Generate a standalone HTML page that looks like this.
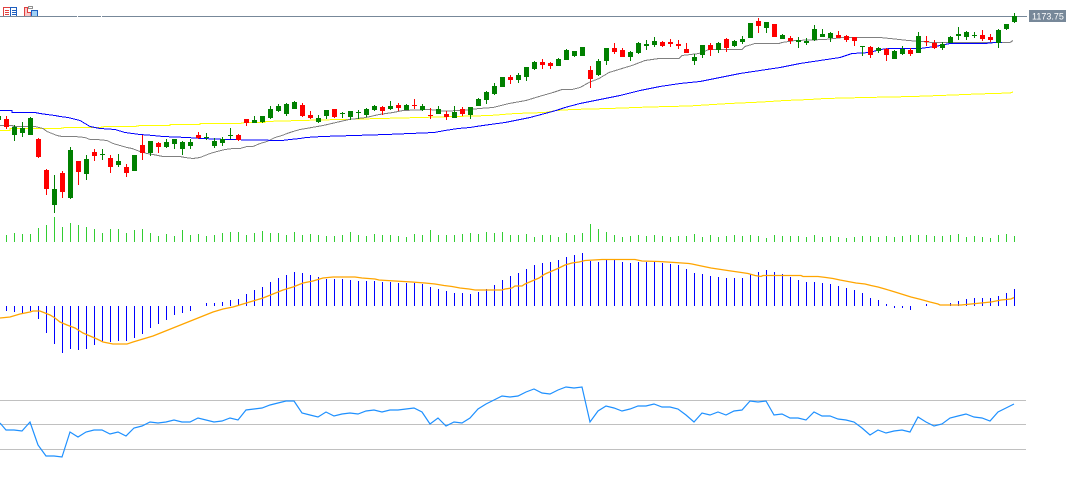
<!DOCTYPE html>
<html>
<head>
<meta charset="utf-8">
<style>
html,body{margin:0;padding:0;background:#fff;}
body{width:1068px;height:499px;overflow:hidden;}
svg{display:block;}
</style>
</head>
<body>
<svg width="1068" height="499" viewBox="0 0 1068 499" xmlns="http://www.w3.org/2000/svg">
<rect x="0" y="0" width="1068" height="499" fill="#ffffff"/>

<!-- toolbar icons -->
<g shape-rendering="crispEdges">
  <rect x="3.5" y="7.5" width="7" height="9" fill="#fff" stroke="#e04040"/>
  <rect x="10.5" y="7.5" width="6" height="9" fill="#fff" stroke="#1f5fbf"/>
  <path d="M5 10.5h4M5 12.5h4M5 14.5h4" stroke="#e04040"/>
  <path d="M12 10.5h4M12 12.5h4M12 14.5h4" stroke="#1f5fbf"/>
  <path d="M24.5 16.5V7.5h3v5h3.5v4z" fill="#f8c8c8" stroke="#e04040"/>
  <rect x="31.5" y="10.5" width="6" height="6" fill="#9fd0f5" stroke="#1f5fbf"/>
  <rect x="28.5" y="6.5" width="4" height="2" fill="#fff" stroke="#909090"/>
</g>

<!-- price line -->
<rect x="0" y="16" width="1027" height="1" fill="#778899"/>
<rect x="77" y="16" width="1" height="1" fill="#fff"/>
<rect x="101" y="16" width="1" height="1" fill="#fff"/>
<rect x="1029" y="10" width="37" height="12" fill="#778899"/>
<text x="1032" y="19.5" font-family="Liberation Sans, sans-serif" font-size="9" fill="#ffffff">1173.75</text>

<!-- moving averages -->
<g fill="none" stroke-width="1" shape-rendering="crispEdges">
<polyline stroke="#ffff00" points="0,130.5 10,130.5 10,128.5 60,128.5 65,127.5 100,127.5 105,126.5 135,126.5 140,125.5 170,125.5 170,124.5 200,124.5 200,123.5 240,123.5 245,122.5 265,122.5 265,121.5 300,120.5 340,119.5 380,118.5 420,117.5 455,116.5 490,115.5 515,113.5 545,112.5 556,110.5 572,109.5 609,108.5 649,107 689,106 729,103.5 762,102 785,100.5 810,99.5 825,98.5 865,97.5 913,96.5 953,95 977,94 1010,93 1013,92"/>
<polyline stroke="#808080" points="0,125.5 13,125.5 13,126.5 35,126.5 43,128.5 47,131.5 52,133.5 57,135.5 62,136.5 75,136.5 85,137.5 90,139.5 97,139.5 107,140.5 113,143.5 120,145.5 127,147.5 132,148.5 140,151.5 147,153.5 153,154.5 163,156.5 180,156.5 185,157.5 193,158.5 200,157.5 205,155.5 210,153.5 217,151.5 225,149.5 233,148.5 240,148.5 247,146.5 253,146.5 260,143.5 267,141.5 275,137.5 282,135.5 287,133.5 293,131.5 300,129.5 306,128.5 323,125.5 336,122.5 349,119.5 366,117.5 379,114.5 393,112.5 403,110.5 429,109.5 443,111 463,110.5 479,108.5 493,107.5 509,103.5 526,100.5 539,96.5 553,92.5 562,89.5 572,89.5 580,87.5 589,82.5 599,78.5 609,72.5 622,68.5 632,65.5 645,60.5 659,58.5 679,58.5 682,55.5 699,53.5 709,49.5 742,49.5 745,46.5 755,43.5 779,43.5 782,42.5 795,40.5 825,39.5 843,37.5 880,37.5 890,38.5 908,40.5 922,41.5 932,42.5 1010,42.5 1013,40.5"/>
<polyline stroke="#0000ff" points="0,110.5 12,110.5 12,112.5 35,112.5 40,113.5 47,114.5 55,115.5 60,116.5 68,117.5 80,120.5 90,126.5 100,128.5 115,129.5 125,132.5 140,134.5 153,135.5 163,136.5 187,137.5 202,138.5 227,139.5 282,140.5 290,139.5 300,138.5 306,137.5 322,136.5 354,135.5 386,134.5 410,133.5 434,132.5 445,130.5 458,128.5 470,127.5 476,126.5 490,124.5 505,122.5 520,119.5 530,117.5 545,113.5 556,110.5 565,107.5 580,103.5 600,99.5 620,95.5 640,90.5 660,86.5 680,83.5 700,81.5 720,77.5 740,73.5 760,70.5 780,67.5 800,63.5 820,60.5 840,57.5 852,53.5 870,52.5 880,49.5 890,48.5 920,48.5 935,46.5 950,43.5 985,43.5 995,42.5 1002,42.5"/>
</g>

<!-- candles -->
<g fill="none" shape-rendering="crispEdges">
<path stroke="#008000" stroke-width="1" d="M-1.5 116V120 M14.5 125V141 M22.5 122V137 M30.5 117V135 M54.5 175V213 M70.5 147V199 M86.5 155V180 M102.5 149V160 M118.5 154V167 M134.5 155V171 M150.5 141V156 M166.5 139V148 M174.5 139V149 M182.5 141V155 M190.5 139V149 M206.5 133V140 M214.5 138V148 M222.5 137V146 M230.5 128V139 M254.5 116V123 M262.5 116V123 M270.5 106V119 M278.5 104V112 M286.5 103V116 M294.5 101V109 M318.5 115V123 M326.5 110V119 M342.5 112V118 M350.5 111V120 M358.5 110V119 M366.5 108V117 M374.5 105V111 M390.5 101V110 M406.5 104V110 M422.5 104V111 M438.5 106V114 M454.5 106V118 M470.5 107V119 M478.5 98V106 M486.5 91V104 M494.5 83V95 M502.5 77V87 M518.5 73V83 M526.5 67V81 M534.5 61V70 M558.5 58V66 M566.5 49V60 M574.5 51V57 M582.5 47V56 M598.5 59V76 M606.5 48V65 M630.5 51V61 M638.5 42V54 M646.5 40V50 M654.5 37V47 M694.5 54V65 M702.5 45V58 M718.5 42V53 M734.5 40V47 M742.5 36V44 M750.5 23V38 M766.5 22V33 M782.5 34V39 M798.5 37V48 M806.5 38V45 M814.5 25V41 M822.5 29V37 M830.5 32V42 M862.5 46V56 M878.5 47V53 M894.5 50V59 M902.5 46V55 M918.5 32V53 M942.5 42V50 M950.5 36V43 M958.5 27V40 M966.5 31V40 M974.5 32V38 M998.5 29V48 M1006.5 24V30 M1014.5 13V23"/>
<path stroke="#008000" stroke-width="5" d="M-1.5 116V120 M14.5 127V135 M22.5 128V133 M30.5 118V135 M54.5 189V205 M70.5 150V198 M86.5 159V174 M102.5 154V155 M118.5 161V165 M134.5 155V171 M150.5 141V153 M166.5 142V147 M174.5 139V144 M182.5 142V149 M190.5 142V146 M206.5 137V138 M214.5 141V146 M222.5 139V143 M230.5 135V136 M254.5 120V123 M262.5 116V122 M270.5 109V118 M278.5 106V111 M286.5 104V114 M294.5 102V109 M318.5 118V122 M326.5 110V116 M342.5 113V114 M350.5 111V117 M358.5 112V113 M366.5 109V115 M374.5 106V110 M390.5 106V109 M406.5 105V110 M422.5 106V110 M438.5 109V114 M454.5 112V118 M470.5 107V115 M478.5 99V106 M486.5 92V100 M494.5 86V94 M502.5 77V87 M518.5 75V80 M526.5 67V77 M534.5 62V69 M558.5 59V66 M566.5 50V60 M574.5 51V56 M582.5 47V56 M598.5 61V75 M606.5 48V61 M630.5 52V57 M638.5 43V53 M646.5 44V46 M654.5 41V45 M694.5 57V61 M702.5 45V55 M718.5 43V50 M734.5 41V46 M742.5 39V42 M750.5 23V38 M766.5 22V28 M782.5 35V39 M798.5 40V42 M806.5 41V43 M814.5 29V40 M822.5 34V37 M830.5 33V38 M862.5 46V47 M878.5 48V51 M894.5 51V59 M902.5 49V54 M918.5 36V53 M942.5 44V48 M950.5 37V43 M958.5 34V36 M966.5 32V37 M974.5 35V36 M998.5 30V43 M1006.5 24V29 M1014.5 16V22"/>
<path stroke="#ff0000" stroke-width="1" d="M6.5 116V129 M38.5 138V158 M46.5 169V195 M62.5 171V198 M78.5 161V185 M94.5 149V161 M110.5 155V173 M126.5 164V177 M142.5 135V160 M158.5 142V153 M198.5 132V139 M238.5 134V141 M246.5 119V126 M302.5 103V117 M310.5 111V119 M334.5 109V118 M382.5 106V115 M398.5 103V111 M414.5 99V109 M430.5 108V119 M446.5 111V120 M462.5 107V116 M510.5 75V84 M542.5 59V69 M550.5 62V69 M590.5 66V88 M614.5 43V54 M622.5 48V57 M662.5 41V47 M670.5 39V47 M678.5 40V49 M686.5 43V53 M710.5 43V56 M726.5 38V52 M758.5 18V33 M774.5 24V37 M790.5 36V44 M838.5 31V38 M846.5 35V42 M854.5 37V46 M870.5 46V58 M886.5 48V61 M910.5 48V56 M926.5 36V46 M934.5 40V49 M982.5 30V41 M990.5 34V42"/>
<path stroke="#ff0000" stroke-width="5" d="M6.5 119V127 M38.5 139V157 M46.5 170V189 M62.5 173V192 M78.5 161V172 M94.5 152V156 M110.5 158V167 M126.5 167V173 M142.5 145V153 M158.5 143V147 M198.5 135V138 M238.5 135V140 M246.5 119V123 M302.5 105V116 M310.5 115V118 M334.5 109V117 M382.5 107V111 M398.5 105V108 M414.5 105V106 M430.5 115V116 M446.5 114V117 M462.5 109V114 M510.5 77V80 M542.5 62V65 M550.5 63V66 M590.5 70V79 M614.5 48V52 M622.5 50V57 M662.5 42V46 M670.5 42V44 M678.5 44V46 M686.5 49V53 M710.5 45V50 M726.5 39V48 M758.5 21V26 M774.5 24V37 M790.5 38V41 M838.5 35V38 M846.5 36V40 M854.5 37V41 M870.5 47V55 M886.5 49V55 M910.5 50V54 M926.5 41V42 M934.5 43V48 M982.5 35V39 M990.5 37V40"/>
</g>

<!-- volume -->
<path fill="none" stroke="#32cd32" stroke-width="1" shape-rendering="crispEdges" d="M6.5 235V242 M14.5 233V242 M22.5 234V242 M30.5 234V242 M38.5 228V242 M46.5 225V242 M54.5 217V242 M62.5 227V242 M70.5 223V242 M78.5 225V242 M86.5 227V242 M94.5 229V242 M102.5 233V242 M110.5 229V242 M118.5 229V242 M126.5 233V242 M134.5 230V242 M142.5 229V242 M150.5 233V242 M158.5 236V242 M166.5 234V242 M174.5 236V242 M182.5 230V242 M190.5 235V242 M198.5 234V242 M206.5 236V242 M214.5 235V242 M222.5 233V242 M230.5 232V242 M238.5 232V242 M246.5 235V242 M254.5 233V242 M262.5 231V242 M270.5 233V242 M278.5 233V242 M286.5 235V242 M294.5 232V242 M302.5 235V242 M310.5 234V242 M318.5 235V242 M326.5 236V242 M334.5 236V242 M342.5 235V242 M350.5 232V242 M358.5 235V242 M366.5 236V242 M374.5 234V242 M382.5 235V242 M390.5 235V242 M398.5 236V242 M406.5 237V242 M414.5 234V242 M422.5 235V242 M430.5 230V242 M438.5 235V242 M446.5 235V242 M454.5 235V242 M462.5 234V242 M470.5 233V242 M478.5 234V242 M486.5 232V242 M494.5 233V242 M502.5 232V242 M510.5 235V242 M518.5 235V242 M526.5 234V242 M534.5 237V242 M542.5 235V242 M550.5 235V242 M558.5 237V242 M566.5 233V242 M574.5 235V242 M582.5 233V242 M590.5 224V242 M598.5 229V242 M606.5 232V242 M614.5 235V242 M622.5 237V242 M630.5 236V242 M638.5 235V242 M646.5 236V242 M654.5 235V242 M662.5 236V242 M670.5 237V242 M678.5 236V242 M686.5 236V242 M694.5 234V242 M702.5 237V242 M710.5 235V242 M718.5 237V242 M726.5 236V242 M734.5 235V242 M742.5 236V242 M750.5 235V242 M758.5 236V242 M766.5 238V242 M774.5 235V242 M782.5 236V242 M790.5 236V242 M798.5 236V242 M806.5 237V242 M814.5 235V242 M822.5 237V242 M830.5 236V242 M838.5 237V242 M846.5 238V242 M854.5 237V242 M862.5 236V242 M870.5 236V242 M878.5 237V242 M886.5 236V242 M894.5 237V242 M902.5 236V242 M910.5 235V242 M918.5 235V242 M926.5 235V242 M934.5 236V242 M942.5 236V242 M950.5 235V242 M958.5 234V242 M966.5 237V242 M974.5 236V242 M982.5 237V242 M990.5 238V242 M998.5 235V242 M1006.5 234V242 M1014.5 236V242"/>

<!-- MACD histogram -->
<path fill="none" stroke="#0000ff" stroke-width="1" shape-rendering="crispEdges" d="M6.5 306V311 M14.5 306V312 M22.5 306V313 M30.5 306V311 M38.5 306V319 M46.5 306V333 M54.5 306V344 M62.5 306V353 M70.5 306V349 M78.5 306V350 M86.5 306V349 M94.5 306V345 M102.5 306V342 M110.5 306V342 M118.5 306V341 M126.5 306V341 M134.5 306V338 M142.5 306V334 M150.5 306V328 M158.5 306V324 M166.5 306V320 M174.5 306V315 M182.5 306V313 M190.5 306V311 M206.5 303V306 M214.5 303V306 M222.5 302V306 M230.5 300V306 M238.5 299V306 M246.5 294V306 M254.5 290V306 M262.5 287V306 M270.5 282V306 M278.5 278V306 M286.5 275V306 M294.5 272V306 M302.5 273V306 M310.5 275V306 M318.5 277V306 M326.5 279V306 M334.5 279V306 M342.5 279V306 M350.5 280V306 M358.5 281V306 M366.5 281V306 M374.5 281V306 M382.5 282V306 M390.5 282V306 M398.5 283V306 M406.5 283V306 M414.5 283V306 M422.5 284V306 M430.5 287V306 M438.5 289V306 M446.5 291V306 M454.5 293V306 M462.5 293V306 M470.5 294V306 M478.5 292V306 M486.5 289V306 M494.5 285V306 M502.5 280V306 M510.5 276V306 M518.5 273V306 M526.5 269V306 M534.5 265V306 M542.5 263V306 M550.5 262V306 M558.5 260V306 M566.5 257V306 M574.5 255V306 M582.5 253V306 M590.5 261V306 M598.5 262V306 M606.5 260V306 M614.5 260V306 M622.5 262V306 M630.5 263V306 M638.5 262V306 M646.5 262V306 M654.5 262V306 M662.5 263V306 M670.5 264V306 M678.5 265V306 M686.5 269V306 M694.5 273V306 M702.5 274V306 M710.5 276V306 M718.5 277V306 M726.5 278V306 M734.5 278V306 M742.5 278V306 M750.5 274V306 M758.5 272V306 M766.5 270V306 M774.5 272V306 M782.5 274V306 M790.5 277V306 M798.5 280V306 M806.5 282V306 M814.5 282V306 M822.5 283V306 M830.5 284V306 M838.5 286V306 M846.5 288V306 M854.5 290V306 M862.5 293V306 M870.5 298V306 M878.5 300V306 M886.5 304V306 M894.5 306V308 M902.5 306V308 M910.5 306V310 M926.5 304V306 M950.5 303V306 M958.5 301V306 M966.5 299V306 M974.5 298V306 M982.5 298V306 M990.5 298V306 M998.5 296V306 M1006.5 293V306 M1014.5 289V306"/>

<!-- MACD signal -->
<polyline fill="none" stroke="#ffa500" stroke-width="1.3" points="0,318 10,317 20,314 30,312 33,311 40,311 45,313 50,315 55,318 60,322 67,325 75,328 83,333 90,336 97,339 103,342 113,344 127,344 133,342 143,339 153,336 163,332 173,328 183,324 193,320 203,316 213,312 223,309 233,307 243,304 253,301 263,298 273,294 283,290 293,287 303,283 313,281 323,278 333,277 355,277 362,278 375,279 379,280 395,281 412,282 425,283 435,284 444,285.5 452,286.5 460,288 469,289 475,290 502,290 505,289 512,288 515,286 522,286 525,284 532,281 539,278 545,274 552,271 559,268 565,265 572,263 579,262 585,260.5 602,259.5 635,259.5 642,261 659,261.5 675,262.5 689,263.5 692,264 699,265.5 711,268 721,269.5 731,271 738,272 748,273.5 755,275.5 761,276.5 763,275.5 801,275.5 803,276.5 818,276.5 826,277.5 833,278.5 840,280 848,281.5 856,283 865,284 871,285.5 878,287 885,289 895,292 903,294.5 911,297 921,299.5 930,302 938,304 940,305 961,305 971,304 981,303 991,302 1001,300 1011,299 1014,297.5"/>

<!-- RSI levels -->
<g shape-rendering="crispEdges">
<rect x="0" y="400" width="1026" height="1" fill="#c0c0c0"/>
<rect x="0" y="424" width="1026" height="1" fill="#c0c0c0"/>
<rect x="0" y="449" width="1026" height="1" fill="#c0c0c0"/>
</g>

<!-- RSI -->
<polyline fill="none" stroke="#1e90ff" stroke-width="1.2" points="0,423 6,430 14,430 22,431 30,422 38,445 46,456 54,456 62,457 70,432 78,437 86,432 94,430 102,430 110,434 118,432 126,436 134,428 142,426 150,422 158,423 166,422 174,420 182,422 190,422 198,418 206,420 214,422 222,421 230,418 238,420 246,410 254,409 262,408 270,405 278,403 286,401 294,401 302,413 310,415 318,417 326,412 334,416 342,414 350,413 358,414 366,411 374,410 382,412 390,410 398,410 406,409 414,408 422,412 430,424 438,418 446,426 454,422 462,423 470,418 478,409 486,404 494,400 502,396 510,397 518,396 526,392 534,389 542,393 550,394 558,390 566,387 574,388 582,387 590,422 598,411 606,406 614,408 622,411 630,409 638,406 646,406 654,404 662,407 670,407 678,409 686,415 694,422 702,413 710,415 718,412 726,415 734,411 742,410 750,401 758,402 766,401 774,415 782,414 790,418 798,418 806,420 814,412 822,416 830,416 838,419 846,420 854,422 862,428 870,435 878,430 886,433 894,431 902,430 910,432 918,417 926,422 934,426 942,424 950,418 958,416 966,414 974,417 982,418 990,421 998,412 1006,408 1014,404"/>
</svg>
</body>
</html>
